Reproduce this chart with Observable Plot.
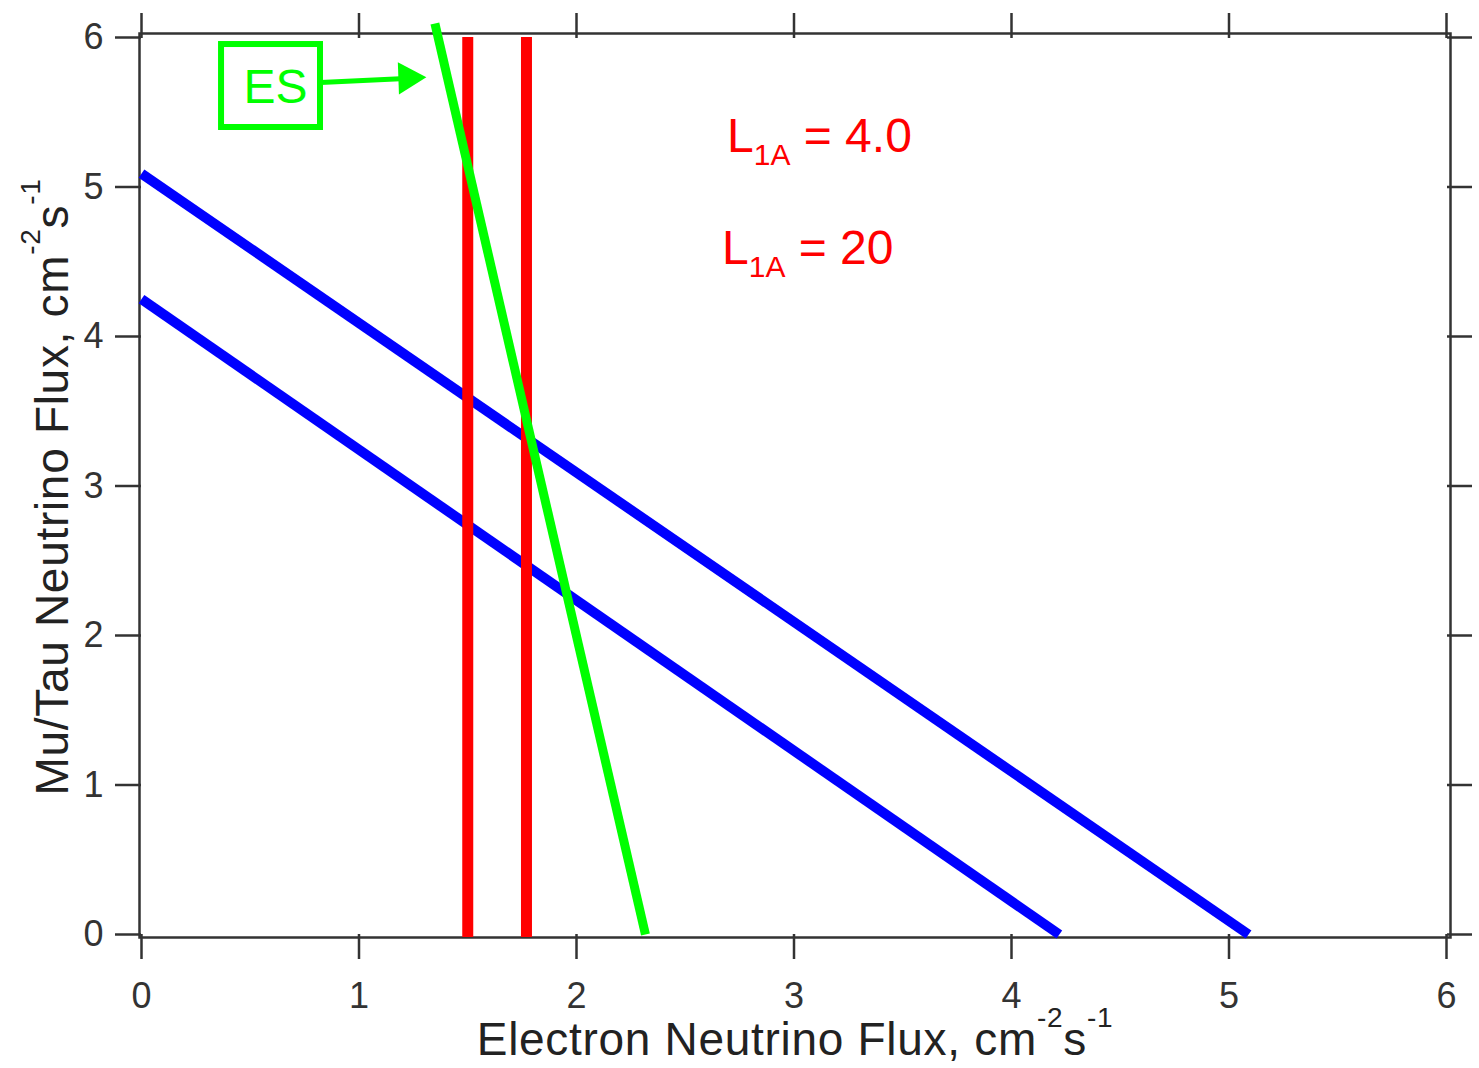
<!DOCTYPE html>
<html>
<head>
<meta charset="utf-8">
<script src="https://cdn.jsdelivr.net/npm/d3@7"></script>
<script src="https://cdn.jsdelivr.net/npm/@observablehq/plot@0.6"></script>
<style>
  html, body { margin: 0; padding: 0; background: #fff; }
  #chart svg text { white-space: pre; }
</style>
</head>
<body>
<div id="chart"></div>
<script>
// ---- data ----
const xTicks = [0, 1, 2, 3, 4, 5, 6];
const yTicks = [0, 1, 2, 3, 4, 5, 6];

// blue lines (NC-type constraints): endpoints on the axes
const blueUpperX = [0, 5.09];
const blueUpperY = [5.09, 0];
const blueLowerX = [0, 4.22];
const blueLowerY = [4.25, 0];

// red vertical lines (CC constraints)
const redX = [1.50, 1.77];
const redY = [-0.02, 6];

// green ES line
const greenX = [1.349, 2.317];
const greenY = [6.094, 0];

// ES annotation box, arrow
const esBoxX = [0.368, 0.823];
const esBoxY = [5.398, 5.953];
const esLabel = ["ES"];
const esLabelX = [0.616];
const esLabelY = [5.666];
const esArrowX = [0.823, 1.214];
const esArrowY = [5.699, 5.726];
const esHeadX = [1.224];
const esHeadY = [5.729];

// L1A annotations
const l1aRest = [" = 4.0", " = 20"];
const l1aX = [2.692, 2.669];
const l1aY = [5.338, 4.589];

const xLabelParts = [["Electron Neutrino Flux, cm", ""], ["-2", "sup"], ["s", ""], ["-1", "sup"]];
const yLabelParts = [["Mu/Tau Neutrino Flux, cm", ""], ["-2", "sup"], ["s", ""], ["-1", "sup"]];

// ---- chart ----
const FONT = "'Liberation Sans', Arial, Helvetica, sans-serif";
const BLUE = "#0000ff", RED = "#ff0000", GREEN = "#00ff00", AXIS = "#333";

const seg = (xs, ys) => xs.map((x, i) => ({x, y: ys[i]}));

const plot = Plot.plot({
  width: 1479,
  height: 1068,
  marginLeft: 141,
  marginRight: 33,
  marginTop: 37,
  marginBottom: 134,
  style: {fontFamily: FONT, color: AXIS, background: "#fff", overflow: "visible"},
  x: {domain: [0, 6]},
  y: {domain: [0, 6]},
  marks: [
    Plot.frame({stroke: AXIS, strokeWidth: 2.5, insetTop: -4, insetLeft: -2, insetRight: -4, insetBottom: -3}),
    Plot.axisX({ticks: xTicks, anchor: "bottom", tickSize: 25, tickPadding: 23, fontSize: 35, strokeWidth: 2.5, label: null, tickFormat: d3.format("d")}),
    Plot.axisX({ticks: xTicks, anchor: "top", tickSize: 25, strokeWidth: 2.5, label: null, tickFormat: () => ""}),
    Plot.axisY({ticks: yTicks, anchor: "left", tickSize: 26, tickPadding: 12, fontSize: 35, strokeWidth: 2.5, label: null, tickFormat: d3.format("d")}),
    Plot.axisY({ticks: yTicks, anchor: "right", tickSize: 25, strokeWidth: 2.5, label: null, tickFormat: () => ""}),

    Plot.line(seg(blueUpperX, blueUpperY), {x: "x", y: "y", stroke: BLUE, strokeWidth: 10, strokeLinecap: "butt"}),
    Plot.line(seg(blueLowerX, blueLowerY), {x: "x", y: "y", stroke: BLUE, strokeWidth: 10, strokeLinecap: "butt"}),
    Plot.ruleX(redX, {y1: redY[0], y2: redY[1], stroke: RED, strokeWidth: 11}),
    Plot.line(seg(greenX, greenY), {x: "x", y: "y", stroke: GREEN, strokeWidth: 9, strokeLinecap: "butt"}),

    Plot.rect([0], {x1: esBoxX[0], x2: esBoxX[1], y1: esBoxY[0], y2: esBoxY[1], fill: "none", stroke: GREEN, strokeWidth: 6}),
    Plot.text(esLabel, {x: esLabelX, y: esLabelY, text: d => d, fill: GREEN, fontSize: 48, textAnchor: "middle"}),
    Plot.line(seg(esArrowX, esArrowY), {x: "x", y: "y", stroke: GREEN, strokeWidth: 5, strokeLinecap: "butt"}),
    Plot.dot([0], {x: esHeadX, y: esHeadY, symbol: "triangle", r: 12, fill: GREEN, stroke: "none", rotate: 88}),

    Plot.text(l1aRest, {x: l1aX, y: l1aY, text: d => "L1A" + d, fill: RED, fontSize: 48, textAnchor: "start", className: "l1a"})
  ]
});

document.getElementById("chart").append(plot);

// ---- rich text helpers (sub/superscripts as tspans) ----
function richText(sel, parts, base, supScale = 0.6, subScale = 0.6) {
  sel.text(null);
  let shift = 0;
  for (const [str, kind] of parts) {
    const target = kind === "sup" ? -0.6 * base : kind === "sub" ? 0.27 * base : 0;
    const t = sel.append("tspan").text(str).attr("dy", target - shift);
    if (kind === "sup") t.attr("font-size", Math.round(base * supScale));
    if (kind === "sub") t.attr("font-size", Math.round(base * subScale));
    shift = target;
  }
}

const svg = d3.select(plot);

// larger tick labels, like the reference
svg.selectAll('g[aria-label="x-axis tick label"], g[aria-label="y-axis tick label"]')
  .attr("font-size", 36)
  .style("font-size", "36px");

svg.selectAll("g.l1a text").each(function(d, i) {
  richText(d3.select(this), [["L", ""], ["1A", "sub"], [l1aRest[i], ""]], 48, 0.6, 0.62);
});

// axis labels
const xl = svg.append("text")
  .attr("transform", "translate(795,1055)")
  .attr("text-anchor", "middle")
  .attr("font-family", FONT)
  .attr("font-size", 46)
  .attr("letter-spacing", 0.7)
  .attr("fill", "#222");
richText(xl, xLabelParts, 46);

const yl = svg.append("text")
  .attr("transform", "translate(68,487) rotate(-90)")
  .attr("text-anchor", "middle")
  .attr("font-family", FONT)
  .attr("font-size", 46)
  .attr("letter-spacing", 0.7)
  .attr("fill", "#222");
richText(yl, yLabelParts, 46);
</script>
</body>
</html>
